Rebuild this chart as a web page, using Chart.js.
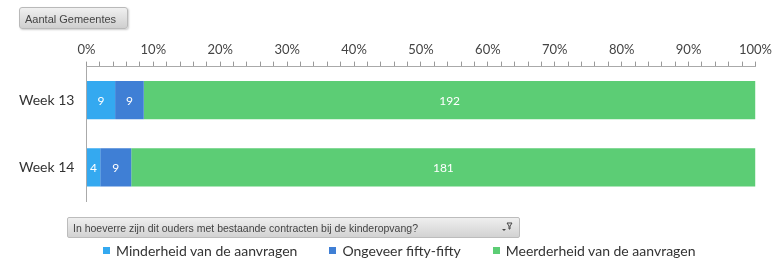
<!DOCTYPE html>
<html>
<head>
<meta charset="utf-8">
<script src="https://cdn.jsdelivr.net/npm/chart.js@4"></script>
<style>
  html, body { margin: 0; padding: 0; background: #fff; }
  #wrap { position: relative; width: 776px; height: 261px; overflow: hidden; }
  #chart { position: absolute; left: 0; top: 0; }
  .btn {
    position: absolute; left: 19px; top: 7px; width: 109px; height: 22px;
    border-radius: 3px; border: 1px solid #b9b9b9;
    background: linear-gradient(#f0f0f0, #cfcfcf);
    font: 11px "Liberation Sans Narrow", "Liberation Sans", sans-serif; color: #444;
    line-height: 22px; padding-left: 5px; box-sizing: border-box;
    box-shadow: 1px 1px 2px rgba(0,0,0,0.2);
  }
  .filter {
    position: absolute; left: 67px; top: 217px; width: 453px; height: 21px;
    border-radius: 2px; border: 1px solid #bcbcbc;
    background: linear-gradient(#efefef, #d2d2d2);
    font: 10.5px "Liberation Sans Narrow", "Liberation Sans", sans-serif; color: #444;
    line-height: 21px; padding-left: 5px; box-sizing: border-box;
  }
  .filter svg { position: absolute; right: 6px; top: 3px; }
  #legend {
    position: absolute; left: 103px; top: 241px; height: 18px;
    display: flex; gap: 32px; align-items: center;
    font: 14px Lato, sans-serif; color: #333; white-space: nowrap;
  }
  #legend span.item { display: flex; align-items: center; }
  #legend i { display: inline-block; width: 7px; height: 7px; margin-right: 6px; }
</style>
</head>
<body>
<div id="wrap">
  <canvas id="chart" width="776" height="261"></canvas>
  <div class="btn">Aantal Gemeentes</div>
  <div class="filter">In hoeverre zijn dit ouders met bestaande contracten bij de kinderopvang?
    <svg width="12" height="12" viewBox="0 0 12 12">
      <path d="M1 8 L3 10 L5 8 Z" fill="#444"/>
      <path d="M6 2 L11 2 L9 5 L9 8 L8 8 L8 5 Z" fill="none" stroke="#444" stroke-width="1"/>
    </svg>
  </div>
  <div id="legend"></div>
</div>
<script>
const weeks = ['Week 13', 'Week 14'];
const minderheid = [9, 4];
const fiftyFifty = [9, 9];
const meerderheid = [192, 181];
const seriesNames = ['Minderheid van de aanvragen', 'Ongeveer fifty-fifty', 'Meerderheid van de aanvragen'];
const seriesColors = ['#34a9f0', '#3f7fd5', '#5ccd75'];

const counts = [minderheid, fiftyFifty, meerderheid];
const totals = weeks.map((w, i) => counts.reduce((s, arr) => s + arr[i], 0));

const datasets = counts.map((arr, k) => ({
  label: seriesNames[k],
  data: arr.map((v, i) => (v / totals[i]) * 100),
  counts: arr,
  backgroundColor: seriesColors[k],
  borderWidth: 0,
  categoryPercentage: 1,
  barPercentage: 0.57,
}));

// white counts inside the segments
const countLabels = {
  id: 'countLabels',
  afterDatasetsDraw(chart) {
    const ctx = chart.ctx;
    ctx.save();
    ctx.fillStyle = '#ffffff';
    ctx.font = '12px Lato, sans-serif';
    ctx.textAlign = 'center';
    ctx.textBaseline = 'middle';
    chart.data.datasets.forEach((ds, k) => {
      const meta = chart.getDatasetMeta(k);
      meta.data.forEach((bar, i) => {
        const x = (bar.x + bar.base) / 2;
        ctx.fillText(String(ds.counts[i]), x, bar.y + 1);
      });
    });
    ctx.restore();
  },
};

const chart = new Chart(document.getElementById('chart'), {
  type: 'bar',
  data: { labels: weeks, datasets },
  plugins: [countLabels],
  options: {
    responsive: false,
    animation: false,
    indexAxis: 'y',
    layout: { padding: { top: 38, left: 7, right: 0, bottom: 60 } },
    plugins: {
      tooltip: { enabled: false },
      legend: { display: false },
    },
    scales: {
      x: {
        position: 'top',
        stacked: true,
        min: 0,
        max: 100,
        ticks: {
          stepSize: 2,
          autoSkip: false,
          maxRotation: 0,
          padding: 4,
          color: '#444',
          font: { family: 'Lato, sans-serif', size: 13 },
          callback: (v) => (v % 10 === 0 ? v + '%' : ''),
        },
        grid: {
          drawOnChartArea: false,
          tickLength: 5,
          tickColor: '#999',
        },
        border: { color: '#aaa' },
      },
      y: {
        stacked: true,
        ticks: {
          padding: 12,
          color: '#333',
          font: { family: 'Lato, sans-serif', size: 14 },
        },
        grid: { drawOnChartArea: false, drawTicks: false },
        border: { color: '#aaa' },
      },
    },
  },
});

// legend built from the datasets
const legendEl = document.getElementById('legend');
chart.data.datasets.forEach((ds) => {
  const item = document.createElement('span');
  item.className = 'item';
  const box = document.createElement('i');
  box.style.background = ds.backgroundColor;
  item.appendChild(box);
  item.appendChild(document.createTextNode(ds.label));
  legendEl.appendChild(item);
});
</script>
</body>
</html>
